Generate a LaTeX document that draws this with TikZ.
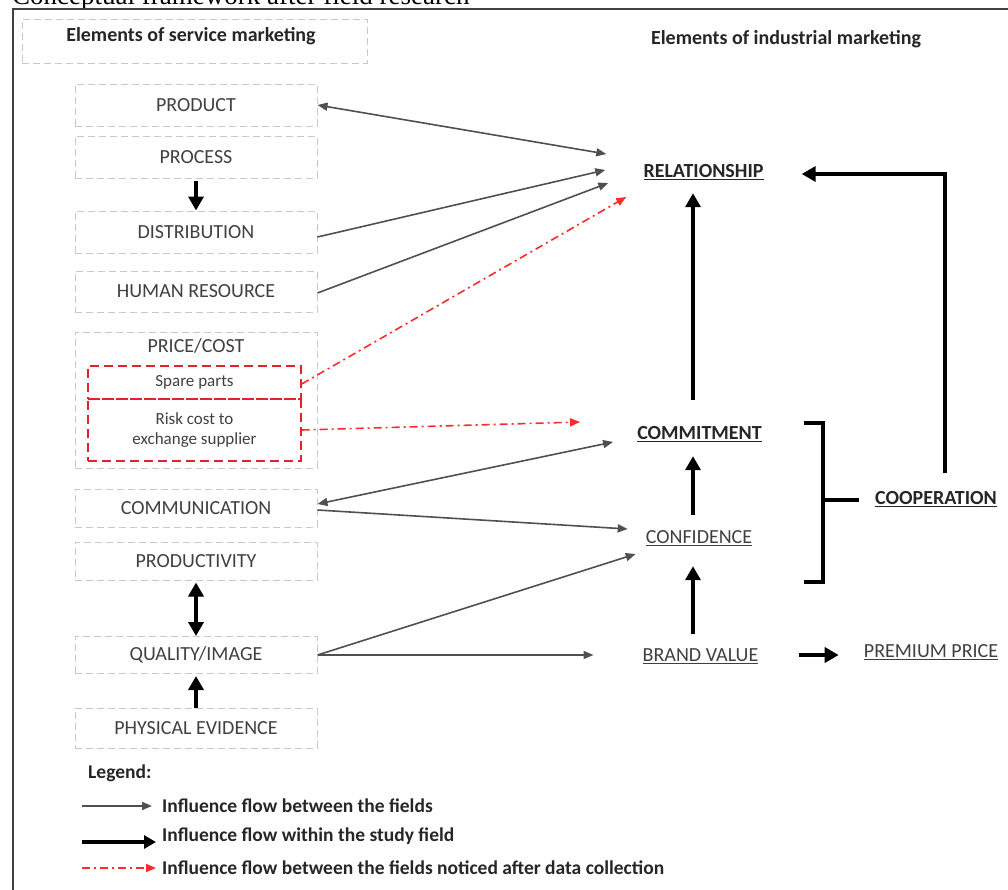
\documentclass[tikz,border=0pt]{standalone}
\usepackage{fontspec}
\setmainfont{Carlito}
\newfontfamily\capfont{Liberation Serif}
\usetikzlibrary{arrows.meta}
\definecolor{boxgray}{HTML}{C8C8C8}
\definecolor{txtgray}{HTML}{404040}
\definecolor{linegray}{HTML}{505050}
\definecolor{dashred}{HTML}{E5222B}
\definecolor{flowred}{HTML}{FF2A2A}

\begin{document}
\begin{tikzpicture}[x=1pt,y=-1pt,
  svcbox/.style={draw=boxgray, dash pattern=on 7pt off 4pt, line width=1pt, minimum width=242pt, text=txtgray, font=\fontsize{20}{24}\selectfont},
  redbox/.style={draw=dashred, dash pattern=on 9pt off 5pt, line width=1.4pt, minimum width=213pt, text=txtgray, font=\fontsize{17}{20}\selectfont, align=center},
  titlelabel/.style={font=\bfseries\fontsize{20}{24}\selectfont, text=black!85, inner sep=2pt},
  keylabel/.style={titlelabel, text height=12pt, text depth=5pt},
  sublabel/.style={font=\fontsize{20}{24}\selectfont, text=txtgray, inner sep=2pt, text height=12pt, text depth=5pt},
  legendtext/.style={font=\bfseries\fontsize{19.5}{23}\selectfont, text=black!85, anchor=west, inner sep=2pt},
  thinflow/.style={draw=linegray, line width=1.6pt, -{Triangle[length=10pt,width=8pt]}},
  thickflow/.style={draw=black, line width=4.5pt, -{Triangle[length=14pt,width=15pt]}},
  redflow/.style={draw=flowred, line width=1.6pt, dash pattern=on 8pt off 4pt on 2pt off 4pt, -{Triangle[length=10pt,width=8pt]}},
  bracket/.style={draw=black, line width=4pt}]
\useasboundingbox (0,0) rectangle (1008,889);

% caption and frame
\node[font=\capfont\fontsize{27}{30}\selectfont, anchor=base west, inner sep=0pt] (caption) at (12,4) {Conceptual framework after field research};
\draw[line width=1.5pt, draw=black!75] (13,900) -- (13,9) -- (1020,9);

% service marketing side
\node[svcbox, minimum width=345pt, minimum height=44pt] (svchead) at (194.5,41) {};
\node[titlelabel] (svctitle) at (191,36) {Elements of service marketing};
\node[svcbox, minimum height=42pt] (product) at (196,105) {PRODUCT};
\node[svcbox, minimum height=42pt] (process) at (196,157) {PROCESS};
\node[svcbox, minimum height=42pt] (distrib) at (196,232) {DISTRIBUTION};
\node[svcbox, minimum height=41pt] (humres) at (196,291.5) {HUMAN RESOURCE};
\node[svcbox, minimum height=136pt] (pricebox) at (196,400) {};
\node[text=txtgray, font=\fontsize{20}{24}\selectfont] (pricelbl) at (196,346) {PRICE/COST};
\node[redbox, minimum height=33pt] (spare) at (194.5,382.5) {Spare parts};
\node[redbox, minimum height=62pt] (riskcost) at (194.5,430) {Risk cost to\\exchange supplier};
\node[svcbox, minimum height=38pt] (commun) at (196,508) {COMMUNICATION};
\node[svcbox, minimum height=38pt] (productiv) at (196,561) {PRODUCTIVITY};
\node[svcbox, minimum height=37pt] (quality) at (196,655) {QUALITY/IMAGE};
\node[svcbox, minimum height=40pt] (physical) at (196,728) {PHYSICAL EVIDENCE};

% industrial marketing side
\node[titlelabel] (indtitle) at (786,39) {Elements of industrial marketing};
\node[keylabel] (relation) at (703.5,174) {\underline{RELATIONSHIP}};
\node[keylabel] (commit) at (699.5,436) {\underline{COMMITMENT}};
\node[sublabel] (confid) at (699,540) {\underline{CONFIDENCE}};
\node[sublabel] (brandval) at (700.5,658) {\underline{BRAND VALUE}};
\node[sublabel] (premium) at (931,654) {\underline{PREMIUM PRICE}};
\node[keylabel] (coop) at (936,501) {\underline{COOPERATION}};

% flows within the study field
\draw[thickflow] ([yshift=-2pt]process.south) -- (distrib.north);
\draw[thickflow, {Triangle[length=14pt,width=15pt]}-{Triangle[length=14pt,width=15pt]}] ([yshift=-2pt]productiv.south) -- (quality.north);
\draw[thickflow] (physical.north) -- ([yshift=-2pt]quality.south);
\draw[thickflow] ([xshift=-6.5pt,yshift=25.5pt]commit.north) -- ([xshift=-10.5pt,yshift=-8.5pt]relation.south);
\draw[thickflow] ([xshift=-6pt,yshift=14.5pt]confid.north) -- ([xshift=-6.5pt,yshift=-9.5pt]commit.south);
\draw[thickflow] ([xshift=-7.5pt,yshift=13.5pt]brandval.north) -- ([xshift=-6pt,yshift=-15.5pt]confid.south);
\draw[thickflow] ([xshift=38pt,yshift=3pt]brandval.east) -- ([xshift=-23pt,yshift=3pt]brandval.east -| premium.west);
\draw[thickflow] ([xshift=9pt,yshift=17pt]coop.north) |- ([xshift=36pt]relation.east);
\draw[bracket] (804,423) -| (823,582) -- (804,582);
\draw[bracket] (823,500) -- ([xshift=-14pt,yshift=1pt]coop.west);

% flows between the fields
\draw[thinflow, {Triangle[length=10pt,width=8pt]}-{Triangle[length=10pt,width=8pt]}] (product.east) -- ([xshift=-35pt,yshift=20pt]relation.west);
\draw[thinflow] ([yshift=-5pt]distrib.east) -- ([xshift=-36pt,yshift=4pt]relation.west);
\draw[thinflow] ([yshift=-1.5pt]humres.east) -- ([xshift=-33pt,yshift=-9pt]relation.west);
\draw[thinflow, {Triangle[length=10pt,width=8pt]}-{Triangle[length=10pt,width=8pt]}] ([yshift=4pt]commun.east) -- ([xshift=-22pt,yshift=-6pt]commit.west);
\draw[thinflow] ([yshift=-2pt]commun.east) -- ([xshift=-16pt,yshift=11pt]confid.west);
\draw[thinflow] (quality.east) -- ([xshift=-8pt,yshift=-14pt]confid.west);
\draw[thinflow] (quality.east) -- ([xshift=-47pt,yshift=3pt]brandval.west);
\draw[redflow] ([yshift=-1.5pt]spare.east) -- ([xshift=-15pt,yshift=-23pt]relation.west);
\draw[redflow] (riskcost.east) -- ([xshift=-55pt,yshift=14pt]commit.west);

% legend
\node[legendtext] (legend) at (86,773) {Legend:};
\node[legendtext] (lgthin) at (160,806) {Influence flow between the fields};
\node[legendtext] (lgthick) at (160,836) {Influence flow within the study field};
\node[legendtext] (lgred) at (160,868) {Influence flow between the fields noticed after data collection};
\coordinate (lgthinstart) at (82,806);
\coordinate (lgthickstart) at (82,842);
\coordinate (lgredstart) at (82,868);
\draw[thinflow] (lgthinstart) -- ([xshift=-8pt]lgthin.west);
\draw[thickflow, line width=4pt, -{Triangle[length=12pt,width=13pt]}] (lgthickstart) -- ([xshift=-4pt,yshift=-6pt]lgthick.west);
\draw[redflow] (lgredstart) -- ([xshift=-4pt]lgred.west);
\end{tikzpicture}
\end{document}
